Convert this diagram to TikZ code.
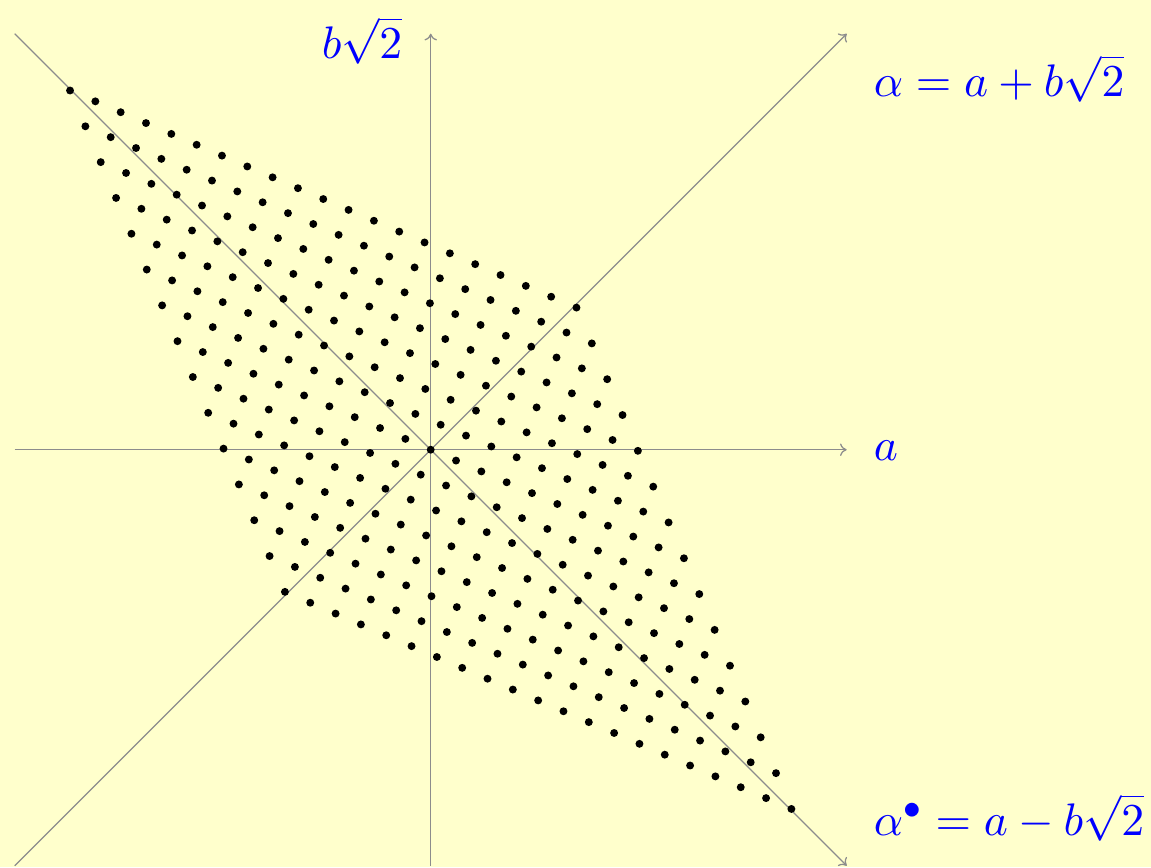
\documentclass[tikz,border=0pt]{standalone}
\usetikzlibrary{arrows.meta}
\definecolor{bgyellow}{RGB}{255,255,204}
\definecolor{axisgray}{RGB}{140,140,140}
\definecolor{labelblue}{RGB}{0,0,255}
\begin{document}
\begin{tikzpicture}[x=0.24pt,y=-0.24pt,
  axisline/.style={draw=axisgray,line width=0.3pt},
  axisarrow/.style={axisline,-{To[length=1.6pt,width=3pt]}},
  lbl/.style={text=labelblue,inner sep=0pt,anchor=base west,font=\fontsize{11pt}{13pt}\selectfont},
  dot/.style={fill=black}]
\fill[bgyellow] (0,0) rectangle (1151,867);
\useasboundingbox (0,0) rectangle (1151,867);
\coordinate (O) at (430.7,449.7);
\coordinate (W) at (14.7,449.7);
\coordinate (E) at (846.7,449.7);
\coordinate (S) at (430.7,865.7);
\coordinate (N) at (430.7,33.7);
\coordinate (NW) at (14.7,33.7);
\coordinate (SE) at (846.7,865.7);
\coordinate (SW) at (14.7,865.7);
\coordinate (NE) at (846.7,33.7);
\draw[axisarrow] (W) -- (E);
\draw[axisarrow] (S) -- (N);
\draw[axisarrow] (SW) -- (NE);
\draw[axisarrow] (NW) -- (SE);
\foreach \a in {-10,...,10}{
  \foreach \b in {-7,...,7}{
    \fill[dot] ({430.7+25.322*\a-15.350*\b},{449.7+10.854*\a-35.811*\b}) circle[radius=0.95pt];
  }
}
\node[lbl] (lb) at (321,58) {$b\sqrt{2}$};
\node[lbl] (la) at (873,460) {$a$};
\node[lbl] (lalpha) at (873,96) {$\alpha = a + b\sqrt{2}$};
\node[lbl] (lconj) at (873,835) {$\alpha^\bullet = a - b\sqrt{2}$};
\end{tikzpicture}
\end{document}
